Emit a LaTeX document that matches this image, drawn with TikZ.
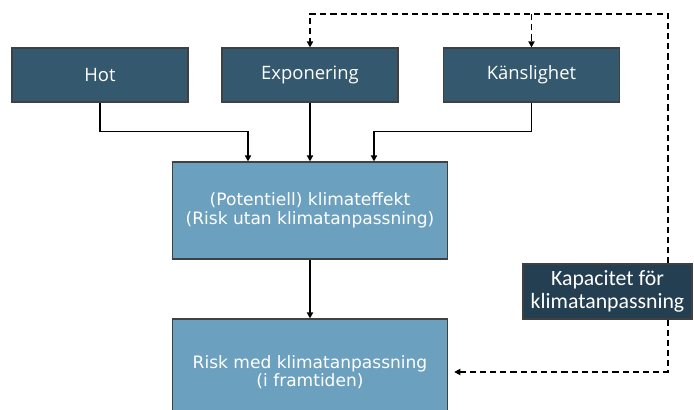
\documentclass[tikz,border=0pt]{standalone}
\usepackage{fontspec}
\setmainfont{Open Sans}
\newfontfamily\verdanafont{DejaVu Sans}
\newfontfamily\calibrifont{Carlito}
\usetikzlibrary{arrows.meta, positioning, calc}
\definecolor{TopBlue}{RGB}{52,88,110}
\definecolor{KapBlue}{RGB}{36,63,81}
\definecolor{LightBlue}{RGB}{108,160,191}
\definecolor{EdgeGray}{RGB}{64,64,64}

\begin{document}
\begin{tikzpicture}[
  factor/.style={draw=EdgeGray, line width=0.6pt, fill=TopBlue, text=white, inner sep=0pt,
    minimum width=3.52cm, minimum height=1.08cm, font=\fontsize{10.5}{12}\selectfont},
  effect/.style={draw=EdgeGray, line width=0.6pt, fill=LightBlue, text=white, inner sep=0pt,
    align=center, minimum width=5.5cm, font=\verdanafont\fontsize{9.7}{10.6}\selectfont},
  capbox/.style={draw=EdgeGray, line width=0.6pt, fill=KapBlue, text=white, inner sep=0pt,
    align=center, minimum width=3.38cm, minimum height=1.1cm, font=\calibrifont\fontsize{12.4}{12.8}\selectfont},
  arr/.style={line width=0.9pt, -{Triangle[length=3.5pt, width=3.5pt]}},
  dasharr/.style={arr, dash pattern=on 3.5pt off 2.3pt},
]
  \useasboundingbox (0,0) rectangle (13.88,-8.2);

  % faktorer
  \node[factor] (hot)  at (2.0,-1.5)  {Hot};
  \node[factor] (exp)  at (6.2,-1.5)  {Exponering};
  \node[factor] (kans) at (10.63,-1.5) {Känslighet};

  % klimateffekt och risk
  \node[effect, minimum height=1.94cm] (klimat) at (6.2,-4.21)
    {(Potentiell) klimateffekt\\(Risk utan klimatanpassning)};
  \node[effect, minimum height=2.12cm] (risk) at (6.2,-7.44)
    {Risk med klimatanpassning\\(i framtiden)};

  % anpassningskapacitet
  \node[capbox] (kap) at (12.15,-5.83) {Kapacitet för\\klimatanpassning};

  % ingångar till klimateffekt
  \coordinate (inL) at ($(klimat.north)+(-1.24,0)$);
  \coordinate (inR) at ($(klimat.north)+(1.28,0)$);
  \draw[arr] (hot.south) |- ($(inL)+(0,0.6)$) -- (inL);
  \draw[arr] (exp) -- (klimat);
  \draw[arr] (kans.south) |- ($(inR)+(0,0.6)$) -- (inR);
  \draw[arr] (klimat) -- (risk);

  % återkoppling från kapacitet
  \coordinate (kaptop) at (13.36,-0.28);
  \draw[dasharr] (kap.north -| kaptop) -- (kaptop) -| (exp.north);
  \draw[dasharr] (kans.north |- kaptop) -- (kans.north);
  \draw[dasharr, shorten >=3.5pt] (kap.south -| kaptop) |- (risk.east);
\end{tikzpicture}
\end{document}
